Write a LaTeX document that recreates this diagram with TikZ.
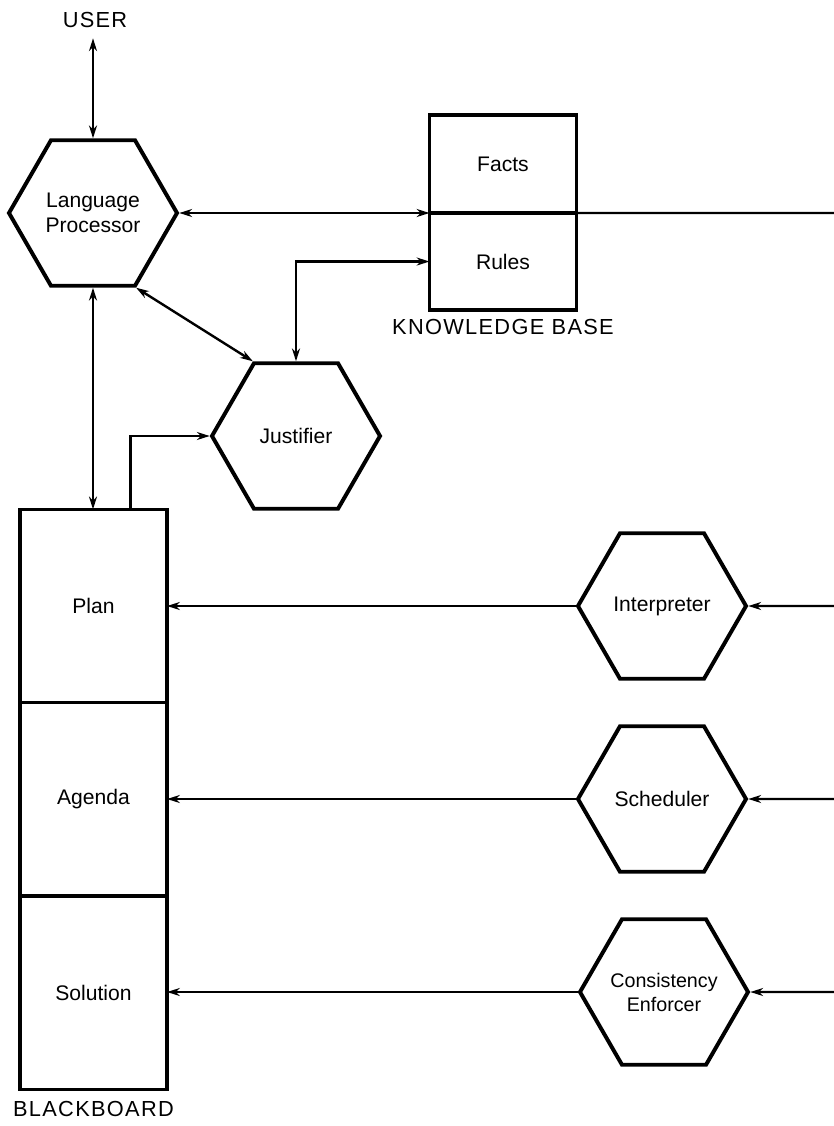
\documentclass[tikz,border=0pt]{standalone}
\usepackage{fontspec}
\setmainfont{Liberation Sans}
\newfontfamily\spacedfont[LetterSpace=6]{Liberation Sans}
\usetikzlibrary{shapes.geometric, arrows.meta, positioning, calc}

\begin{document}
\begin{tikzpicture}[x=0.025cm, y=-0.025cm,
  hexnode/.style={draw, line width=2.8pt, regular polygon, regular polygon sides=6,
    minimum size=4.2cm, inner sep=0pt, align=center, font=\fontsize{15}{18}\selectfont},
  boxnode/.style={draw, line width=2.4pt, minimum width=3.675cm, inner sep=0pt,
    outer sep=0pt, font=\fontsize{15}{18}\selectfont},
  lbl/.style={font=\spacedfont\fontsize{15.5}{18}\selectfont},
  link/.style={line width=1.7pt, -{Stealth[length=0.32cm,width=0.2cm]}},
  dlink/.style={line width=1.7pt, {Stealth[length=0.32cm,width=0.2cm]}-{Stealth[length=0.32cm,width=0.2cm]}}]
\useasboundingbox (0,0) rectangle (834,1126);

\node[lbl] (user) at (95,20) {USER};
\node[hexnode] (lp) at (93,213) {Language\\Processor};

\node[boxnode, minimum height=2.45cm] (facts) at (503,164) {Facts};
\node[boxnode, minimum height=2.425cm, below=0pt of facts] (rules) {Rules};
\node[lbl, below=3pt of rules] (kblabel) {KNOWLEDGE BASE};

\node[hexnode] (jus) at (296,436) {Justifier};

\node[boxnode, minimum height=4.833cm] (plan) at (93.5,606) {Plan};
\node[boxnode, minimum height=4.833cm, below=0pt of plan] (agenda) {Agenda};
\node[boxnode, minimum height=4.833cm, below=0pt of agenda] (solution) {Solution};
\node[lbl, below=5pt of solution] (bblabel) {BLACKBOARD};

\node[hexnode] (interp) at (662,606) {Interpreter};
\node[hexnode] (sched) at (662,799) {Scheduler};
\node[hexnode, font=\fontsize{14}{17}\selectfont] (cons) at (664,992)
  {\makebox[1.8cm]{Consistency}\\Enforcer};

\coordinate (kbout) at (834,213);
\coordinate (in1) at (834,606);
\coordinate (in2) at (834,799);
\coordinate (in3) at (834,992);

\draw[dlink] ([yshift=-4pt]user.south -| lp.north) -- (lp.north);
\draw[dlink] (lp.0) -- (lp.0 -| facts.west);
\draw[line width=1.7pt] (facts.south east) -- (kbout);
\draw[dlink] (jus.90) |- (rules.west);
\draw[dlink] (lp.-60) -- (jus.120);
\draw[dlink] (lp.270) -- (lp.270 |- plan.north);
\draw[link] ($(plan.north)+(37,0)$) |- (jus.180);

\draw[link] (in1) -- (interp.0);
\draw[link] (interp.180) -- (interp.180 -| plan.east);
\draw[link] (in2) -- (sched.0);
\draw[link] (sched.180) -- (sched.180 -| agenda.east);
\draw[link] (in3) -- (cons.0);
\draw[link] (cons.180) -- (cons.180 -| solution.east);
\end{tikzpicture}
\end{document}
